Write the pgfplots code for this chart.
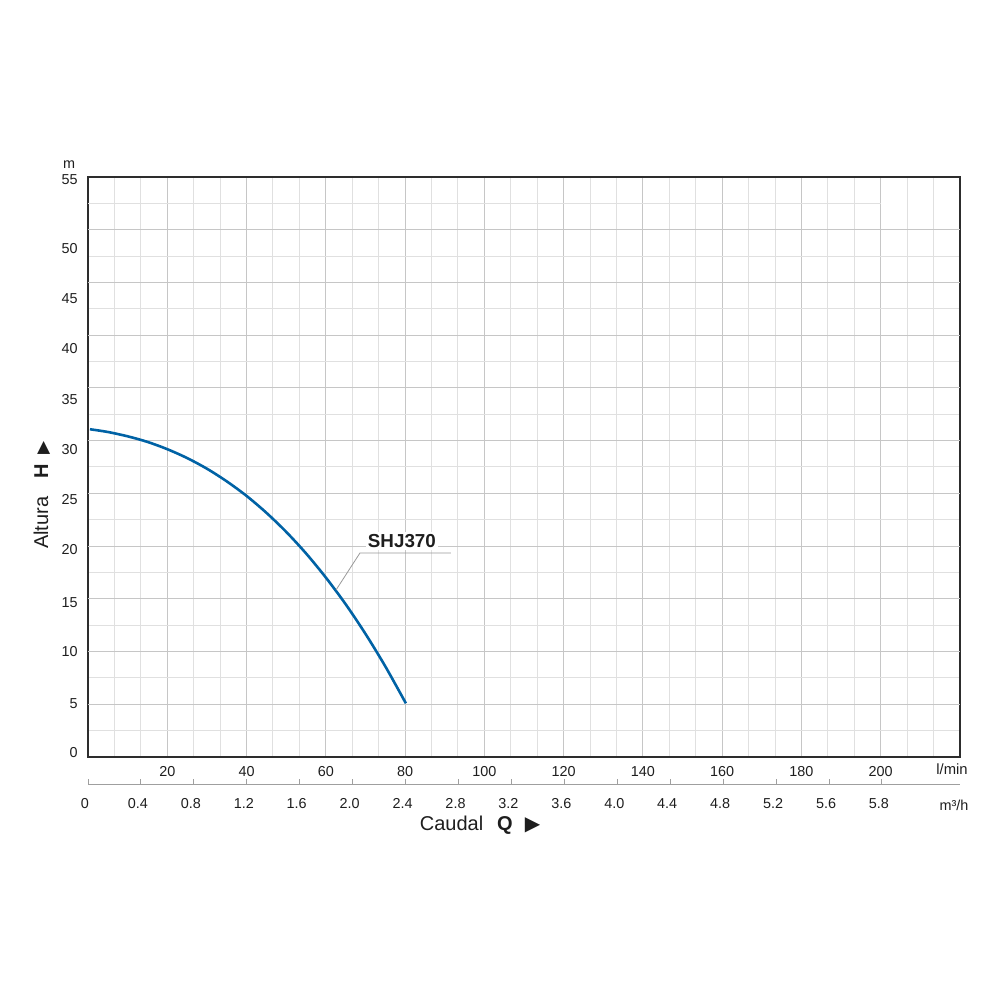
\documentclass[border=0pt]{standalone}
\usepackage{fontspec}
\setmainfont{Liberation Sans}
\newfontfamily\dejavu{DejaVu Sans}
\usepackage{pgfplots}
\pgfplotsset{compat=1.18}
\definecolor{curveblue}{RGB}{0,98,165}
\definecolor{gridlight}{RGB}{224,224,224}
\definecolor{griddark}{RGB}{198,198,198}
\definecolor{framecol}{RGB}{45,45,45}
\definecolor{txt}{RGB}{30,30,30}
\begin{document}
\begin{tikzpicture}
\begin{axis}[
  scale only axis, width=436pt, height=290pt,
  xmin=0, xmax=220, ymin=0, ymax=55,
  axis line style={framecol, line width=0.9pt},
  xtick={20,40,60,80,100,120,140,160,180,200},
  minor xtick={6.667,13.333,26.667,33.333,46.667,53.333,66.667,73.333,86.667,93.333,106.667,113.333,126.667,133.333,146.667,153.333,166.667,173.333,186.667,193.333,206.667,213.333},
  ytick={0.38,5.03,9.96,14.60,19.63,24.37,29.11,33.85,38.69,43.43,48.17,54.72},
  yticklabels={0,5,10,15,20,25,30,35,40,45,50,55},
  minor ytick={2.5,7.5,12.5,17.5,22.5,27.5,32.5,37.5,42.5,47.5},
  extra y ticks={5,10,15,20,25,30,35,40,45,50},
  extra y tick labels={},
  extra y tick style={grid=major},
  xmajorgrids, xminorgrids, yminorgrids,
  major grid style={griddark, line width=0.5pt},
  minor grid style={gridlight, line width=0.5pt},
  major tick length=0pt, minor tick length=0pt,
  tick label style={font=\fontsize{7.2}{8}\selectfont, text=txt},
  /pgf/number format/assume math mode=true,
  xticklabel style={anchor=north, inner sep=0pt, yshift=-4.5pt},
  yticklabel style={anchor=east, inner sep=0pt, xshift=-5pt},
  clip=false,
]
\draw[gridlight, line width=0.5pt] (axis cs:0,52.5) -- (axis cs:200,52.5);
\addplot[curveblue, line width=1.3pt, smooth] coordinates {
  (0.5,31.08) (5,30.82) (10,30.41) (15,29.88) (20,29.19) (25,28.35)
  (30,27.34) (35,26.14) (40,24.76) (45,23.16) (50,21.35) (55,19.31)
  (60,17.02) (65,14.49) (70,11.68) (75,8.60) (80.2,5.09)
};
\node[fill=white, inner sep=1pt, text=txt, font=\bfseries\fontsize{9.4}{10}\selectfont] at (axis cs:79.2,20.48) {SHJ370};
\draw[gray!80, line width=0.4pt] (axis cs:62.6,15.85) -- (axis cs:68.62,19.35) -- (axis cs:91.58,19.35);
\end{axis}
\begin{axis}[
  at={(0,-13.5pt)}, anchor=south west,
  scale only axis, width=436pt, height=5pt,
  xmin=0, xmax=6.59, ymin=0, ymax=1,
  axis x line=bottom, axis y line=none,
  x axis line style={-, draw=gray!75, line width=0.5pt},
  xtick={0,0.4,0.8,1.2,1.6,2.0,2.4,2.8,3.2,3.6,4.0,4.4,4.8,5.2,5.6,6.0},
  xticklabels={0,0.4,0.8,1.2,1.6,2.0,2.4,2.8,3.2,3.6,4.0,4.4,4.8,5.2,5.6,5.8},
  xtick align=inside, major tick length=2.5pt,
  tick style={gray!75, line width=0.5pt},
  /pgf/number format/assume math mode=true,
  xticklabel style={font=\fontsize{7.2}{8}\selectfont, text=txt, anchor=north, inner sep=0pt, yshift=-7pt, xshift=-1.5pt},
]
\end{axis}
\begin{scope}[shift={(-44pt,378.5pt)}, x=0.5pt, y=-0.5pt]
\path (0,0) rectangle (1000,1000);
\node[text=txt, font=\fontsize{7.2}{8}\selectfont] at (69,165) {m};
\node[text=txt, font=\fontsize{7.4}{8}\selectfont] at (952,769) {l/min};
\node[text=txt, font=\fontsize{7.2}{8}\selectfont] at (954,805) {m³/h};
\node[text=txt, rotate=90, font=\fontsize{10}{12}\selectfont] at (42,495) {Altura\hspace{9pt}\textbf{H}\hspace{5pt}{\dejavu\fontsize{8.5}{10}\selectfont ▶}};
\node[text=txt, font=\fontsize{10}{12}\selectfont] at (480,825) {Caudal\hspace{7pt}\textbf{Q}\hspace{6pt}{\dejavu\fontsize{10}{12}\selectfont ▶}};
\end{scope}
\end{tikzpicture}
\end{document}
